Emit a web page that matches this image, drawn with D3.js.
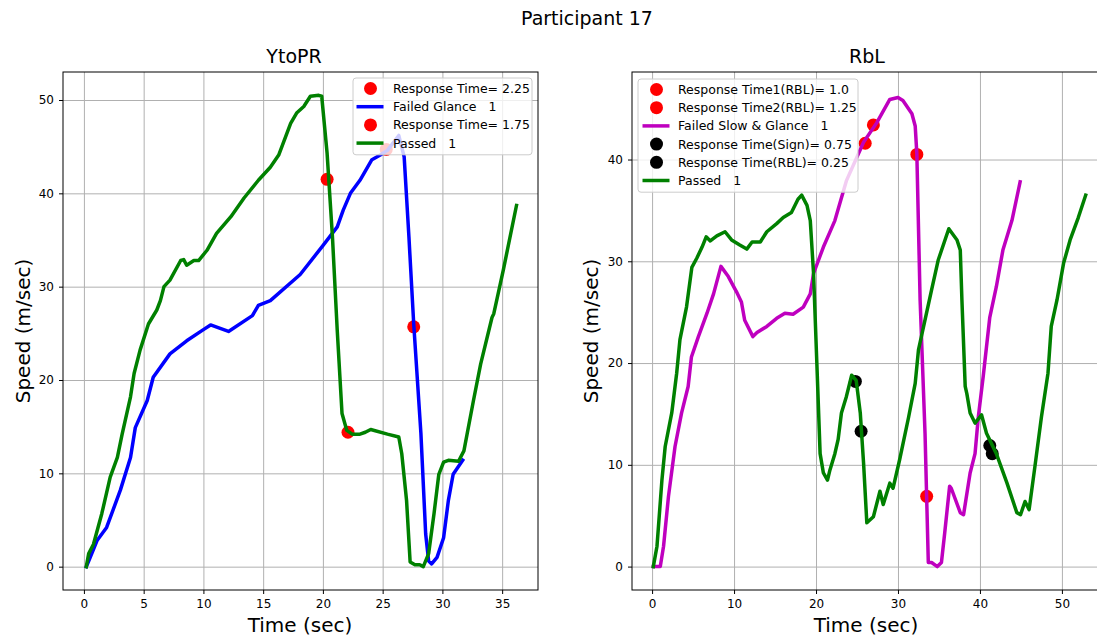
<!DOCTYPE html>
<html>
<head>
<meta charset="utf-8">
<script src="https://cdn.jsdelivr.net/npm/d3@7"></script>
<style>
  body { margin: 0; background: #fff; }
  svg { font-family: "DejaVu Sans", sans-serif; }
</style>
</head>
<body>
<svg id="chart" width="1097" height="637"></svg>
<script>
// --- data: [time (sec), speed (m/sec)] ---
const ytoprGlance = [[0.2,0],[0.4,0.6],[1.1,2.8],[1.9,4.2],[3.05,8.2],[3.9,11.7],[4.3,14.9],[5.3,17.8],[5.8,20.3],
  [7.2,22.8],[8.6,24.2],[10.0,25.4],[10.6,25.9],[12.1,25.2],[14.1,26.9],[14.6,28.0],[15.6,28.5],[18.1,31.3],
  [20.0,34.4],[21.2,36.4],[21.7,38.2],[22.3,40.0],[23.1,41.4],[24.1,43.6],[24.8,44.1],[25.4,44.6],[26.35,46.2],
  [26.8,43.9],[27.2,35.3],[27.6,26.0],[28.2,14.3],[28.6,3.5],[28.85,0.6],[29.1,0.3],[29.55,1.0],[30.1,3.1],
  [30.5,7.1],[30.9,9.9],[31.7,11.4]];
const ytoprPassed = [[0.2,0],[0.4,1.4],[0.8,2.4],[1.5,5.7],[2.2,9.6],[2.8,11.7],[3.2,14.2],[3.9,18.2],[4.2,20.7],
  [4.7,23.2],[5.4,26.0],[6.1,27.5],[6.4,28.5],[6.7,30.0],[7.2,30.7],[8.1,32.8],[8.35,32.9],[8.6,32.3],[9.2,32.8],
  [9.6,32.8],[10.3,33.9],[11.1,35.7],[12.3,37.5],[13.4,39.5],[14.6,41.4],[15.6,42.8],[16.3,44.1],[17.3,47.5],
  [17.8,48.6],[18.4,49.3],[18.95,50.4],[19.65,50.5],[19.9,50.4],[20.35,44.3],[20.8,35.3],[21.2,25.3],[21.6,16.4],
  [22.0,14.6],[22.45,14.2],[23.1,14.2],[23.55,14.4],[24.0,14.7],[25.4,14.2],[26.35,13.9],[26.6,12.1],[27.0,7.1],
  [27.3,0.5],[27.7,0.2],[28.1,0.2],[28.4,0.0],[28.85,1.4],[29.3,5.7],[29.7,9.9],[30.1,11.2],[30.5,11.4],
  [31.35,11.3],[31.8,12.4],[32.6,17.8],[33.2,21.7],[34.15,26.7],[34.3,27.1],[35.1,31.8],[36.2,38.7]];
const ytoprResponse225 = [[25.3,44.7],[27.6,25.7]];
const ytoprResponse175 = [[20.35,41.5],[22.1,14.4]];

const rblSlowGlance = [[0.15,0],[1.0,0],[1.4,2.0],[2.0,6.9],[2.8,11.8],[3.6,15.1],[4.4,17.7],[4.8,20.6],[5.65,22.6],
  [6.7,24.9],[7.5,26.8],[8.4,29.5],[9.3,28.5],[10.3,27.0],[10.9,26.0],[11.3,24.2],[12.3,22.6],[12.8,23.0],
  [14.0,23.6],[15.2,24.4],[16.2,24.9],[17.2,24.8],[18.45,25.5],[19.3,26.8],[19.7,28.8],[20.9,31.4],[22.3,34.0],
  [23.7,37.9],[25.8,41.7],[27.4,43.6],[29.0,45.9],[30.0,46.1],[30.6,45.8],[31.7,44.5],[32.1,43.3],[32.3,40.6],
  [32.7,26.2],[33.3,13.1],[33.7,0.4],[34.1,0.4],[34.8,0.0],[35.3,0.4],[35.7,3.3],[36.3,7.9],[36.5,7.7],
  [37.6,5.3],[38.0,5.1],[38.8,9.2],[39.4,11.1],[39.8,14.7],[40.4,18.7],[41.2,24.5],[42.0,27.5],[42.8,31.1],
  [43.9,34.0],[44.9,37.8]];
const rblPassed = [[0.15,0],[0.6,2.0],[1.2,8.5],[1.6,11.8],[2.4,15.1],[3.0,19.0],[3.4,22.3],[4.2,25.5],[4.85,29.4],
  [5.45,30.3],[6.1,31.4],[6.6,32.4],[7.1,32.0],[7.9,32.5],[8.9,32.9],[9.7,32.1],[10.7,31.6],[11.55,31.2],
  [12.2,31.9],[13.2,31.9],[14.0,32.9],[15.2,33.7],[16.0,34.3],[17.0,34.8],[17.8,36.1],[18.25,36.5],[18.9,35.5],
  [19.3,34.0],[19.7,28.8],[20.1,20.0],[20.5,11.1],[20.9,9.2],[21.4,8.5],[21.7,9.5],[22.3,11.1],[22.7,12.5],
  [23.1,15.1],[23.7,16.7],[24.35,18.8],[24.9,18.3],[25.4,15.1],[25.8,10.2],[26.2,4.3],[27.0,4.9],[27.8,7.4],
  [28.2,6.1],[29.0,8.2],[29.4,7.7],[30.2,10.5],[31.3,14.7],[32.1,18.0],[32.5,21.3],[34.1,27.2],[34.9,30.1],
  [36.2,33.2],[37.2,32.1],[37.6,31.1],[37.8,26.2],[38.2,17.7],[38.4,17.0],[38.8,15.1],[39.4,14.1],[40.2,14.9],
  [40.8,13.1],[42.0,11.1],[43.3,8.2],[44.5,5.3],[44.95,5.1],[45.5,6.4],[46.0,5.6],[46.7,9.8],[47.5,14.7],
  [48.3,19.0],[48.7,23.6],[49.4,26.2],[50.2,29.8],[51.0,32.1],[52.0,34.3],[52.9,36.5]];
const rblResponse1 = [[26.0,41.6],[27.0,43.4]];
const rblResponse2 = [[32.3,40.5],[33.5,6.9]];
const rblSign = [[24.8,18.2],[25.5,13.3]];
const rblResponseRbl = [[41.2,11.9],[41.5,11.1]];

const ytoprXTicks = [0, 5, 10, 15, 20, 25, 30, 35];
const ytoprYTicks = [0, 10, 20, 30, 40, 50];
const rblXTicks = [0, 10, 20, 30, 40, 50];
const rblYTicks = [0, 10, 20, 30, 40];

const svg = d3.select('#chart');

svg.append('text')
  .attr('x', 587).attr('y', 25)
  .attr('text-anchor', 'middle')
  .attr('font-size', 19)
  .text('Participant 17');

const panels = [
  {
    id: 'ytopr', title: 'YtoPR', left: 63, right: 538, titleX: 294, labelX: 300, yLabelX: 30,
    xDomain: [-1.75, 38.0], yDomain: [-2.5, 53.0],
    xTicks: ytoprXTicks, yTicks: ytoprYTicks,
    // drawing order as in the original plot
    layers: [
      { type: 'dots', data: ytoprResponse225, color: 'red', label: 'Response Time= 2.25' },
      { type: 'line', data: ytoprGlance, color: 'blue', label: 'Failed Glance   1' },
      { type: 'dots', data: ytoprResponse175, color: 'red', label: 'Response Time= 1.75' },
      { type: 'line', data: ytoprPassed, color: 'green', label: 'Passed   1' }
    ],
    legend: { x: 353, y: 78, w: 179, rowH: 18.2, markX: 370.5, textX: 393 }
  },
  {
    id: 'rbl', title: 'RbL', left: 632, right: 1107, titleX: 867, labelX: 866, yLabelX: 598,
    xDomain: [-2.45, 55.5], yDomain: [-2.3, 48.6],
    xTicks: rblXTicks, yTicks: rblYTicks,
    layers: [
      { type: 'dots', data: rblResponse1, color: 'red', label: 'Response Time1(RBL)= 1.0' },
      { type: 'dots', data: rblResponse2, color: 'red', label: 'Response Time2(RBL)= 1.25' },
      { type: 'line', data: rblSlowGlance, color: '#bf00bf', label: 'Failed Slow & Glance   1' },
      { type: 'dots', data: rblSign, color: 'black', label: 'Response Time(Sign)= 0.75' },
      { type: 'dots', data: rblResponseRbl, color: 'black', label: 'Response Time(RBL)= 0.25' },
      { type: 'line', data: rblPassed, color: 'green', label: 'Passed   1' }
    ],
    legend: { x: 638, y: 79, w: 220, rowH: 18.2, markX: 656.5, textX: 678 }
  }
];

const plotTop = 72, plotBottom = 590;

panels.forEach(p => {
  const x = d3.scaleLinear().domain(p.xDomain).range([p.left, p.right]);
  const y = d3.scaleLinear().domain(p.yDomain).range([plotBottom, plotTop]);
  const g = svg.append('g');

  g.append('clipPath').attr('id', 'clip-' + p.id)
    .append('rect')
    .attr('x', p.left).attr('y', plotTop)
    .attr('width', p.right - p.left).attr('height', plotBottom - plotTop);

  // grid
  g.append('g').attr('transform', `translate(0,${plotBottom})`)
    .call(d3.axisBottom(x).tickValues(p.xTicks).tickSize(-(plotBottom - plotTop)).tickFormat(''))
    .call(a => a.select('.domain').remove())
    .selectAll('line').attr('stroke', '#b0b0b0').attr('stroke-width', 1);
  g.append('g').attr('transform', `translate(${p.left},0)`)
    .call(d3.axisLeft(y).tickValues(p.yTicks).tickSize(-(p.right - p.left)).tickFormat(''))
    .call(a => a.select('.domain').remove())
    .selectAll('line').attr('stroke', '#b0b0b0').attr('stroke-width', 1);

  // axes
  const xa = g.append('g').attr('transform', `translate(0,${plotBottom})`)
    .call(d3.axisBottom(x).tickValues(p.xTicks).tickSize(4).tickPadding(5).tickSizeOuter(0));
  const ya = g.append('g').attr('transform', `translate(${p.left},0)`)
    .call(d3.axisLeft(y).tickValues(p.yTicks).tickSize(4).tickPadding(5).tickSizeOuter(0));
  [xa, ya].forEach(a => {
    a.selectAll('text').attr('font-size', 12).attr('fill', '#000')
      .attr('font-family', '"DejaVu Sans", sans-serif');
    a.select('.domain').remove();
  });

  // frame
  g.append('rect')
    .attr('x', p.left).attr('y', plotTop)
    .attr('width', p.right - p.left).attr('height', plotBottom - plotTop)
    .attr('fill', 'none').attr('stroke', '#000').attr('stroke-width', 1);

  const plot = g.append('g').attr('clip-path', `url(#clip-${p.id})`);
  const line = d3.line().x(d => x(d[0])).y(d => y(d[1]));

  p.layers.forEach(l => {
    if (l.type === 'line') {
      plot.append('path').datum(l.data)
        .attr('d', line)
        .attr('fill', 'none')
        .attr('stroke', l.color)
        .attr('stroke-width', 3.5)
        .attr('stroke-linejoin', 'round')
        .attr('stroke-linecap', 'square');
    } else {
      plot.selectAll(null).data(l.data).join('circle')
        .attr('cx', d => x(d[0])).attr('cy', d => y(d[1]))
        .attr('r', 6.5).attr('fill', l.color);
    }
  });

  // titles and labels
  svg.append('text')
    .attr('x', p.titleX).attr('y', 63)
    .attr('text-anchor', 'middle').attr('font-size', 19)
    .text(p.title);
  svg.append('text')
    .attr('x', p.labelX).attr('y', 632)
    .attr('text-anchor', 'middle').attr('font-size', 20)
    .text('Time (sec)');
  svg.append('text')
    .attr('transform', `translate(${p.yLabelX},${(plotTop + plotBottom) / 2}) rotate(-90)`)
    .attr('text-anchor', 'middle').attr('font-size', 20)
    .text('Speed (m/sec)');

  // legend
  const L = p.legend;
  const n = p.layers.length;
  const lg = svg.append('g');
  lg.append('rect')
    .attr('x', L.x).attr('y', L.y)
    .attr('width', L.w).attr('height', n * L.rowH + 4)
    .attr('rx', 3)
    .attr('fill', 'white').attr('fill-opacity', 0.8)
    .attr('stroke', '#cccccc').attr('stroke-width', 1);
  p.layers.forEach((l, i) => {
    const ry = L.y + 10.5 + i * L.rowH;
    if (l.type === 'line') {
      lg.append('line')
        .attr('x1', L.markX - 14).attr('x2', L.markX + 13)
        .attr('y1', ry).attr('y2', ry)
        .attr('stroke', l.color).attr('stroke-width', 3.5);
    } else {
      lg.append('circle').attr('cx', L.markX).attr('cy', ry)
        .attr('r', 6.5).attr('fill', l.color);
    }
    lg.append('text')
      .attr('x', L.textX).attr('y', ry + 4.5)
      .attr('font-size', 12.5)
      .style('white-space', 'pre')
      .text(l.label);
  });
});
</script>
</body>
</html>
